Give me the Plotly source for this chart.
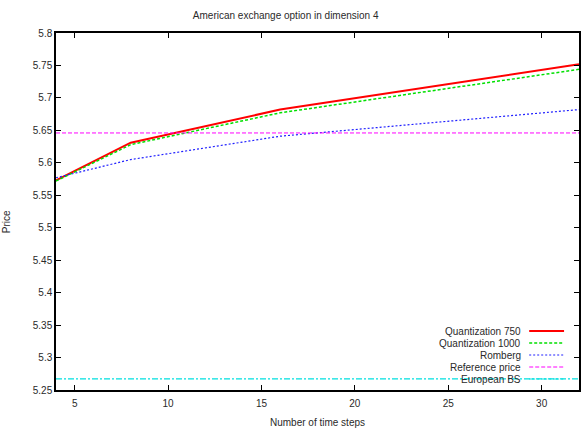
import plotly.graph_objects as go

# ---- data ----
steps = [4, 8, 16, 32]
quant750 = [5.573, 5.631, 5.682, 5.752]
quant1000 = [5.572, 5.628, 5.677, 5.744]
romberg = [5.577, 5.605, 5.641, 5.682]
reference_price = 5.646
european_bs = 5.267
x_range = [4, 32]
y_range = [5.25, 5.8]
y_ticks = [5.25, 5.3, 5.35, 5.4, 5.45, 5.5, 5.55, 5.6, 5.65, 5.7, 5.75, 5.8]
x_ticks = [5, 10, 15, 20, 25, 30]
legend_names = ["Quantization 750", "Quantization 1000", "Romberg", "Reference price", "European BS"]

FONT = "Liberation Sans, Arial, Helvetica, sans-serif"
TXT = "#2a2a2a"

series = [
    (steps, quant750, "#ff0000", "solid", 2.0),
    (steps, quant1000, "#00e000", "3px,2px", 1.5),
    (steps, romberg, "#2020ff", "2px,2px", 1.2),
    (x_range, [reference_price] * 2, "#ff00ff", "4px,2px", 1.0),
    (x_range, [european_bs] * 2, "#00e0e0", "6px,2px,2px,2px", 1.2),
]

fig = go.Figure()
for (xs, ys, col, dash, w), name in zip(series, legend_names):
    fig.add_trace(go.Scatter(x=xs, y=ys, mode="lines", name=name,
                             line=dict(color=col, dash=dash, width=w),
                             showlegend=False))

# manual gnuplot-style legend (text right, sample on right)
L, R, T, B = 56, 2, 33, 48
W, H = 583 - L - R, 438 - T - B
def px(xp):
    return (xp - L) / W
def py(yp):
    return 1 - (yp - T) / H

rows_y = [331, 343, 355, 367, 379]
for (xs, ys, col, dash, w), name, yy in zip(series, legend_names, rows_y):
    fig.add_annotation(xref="paper", yref="paper", x=px(525), y=py(yy),
                       text=name, showarrow=False, xanchor="right", yanchor="middle",
                       font=dict(family=FONT, size=10, color=TXT))
    fig.add_shape(type="line", xref="paper", yref="paper",
                  x0=px(531), x1=px(566), y0=py(yy), y1=py(yy),
                  line=dict(color=col, dash=dash, width=w))

# y-axis title at the far left edge
fig.add_annotation(xref="paper", yref="paper", x=px(6), y=py(222),
                   text="Price", textangle=-90, showarrow=False,
                   xanchor="center", yanchor="middle",
                   font=dict(family=FONT, size=10, color=TXT))

axis_common = dict(showline=True, linecolor="black", linewidth=1.5, mirror="ticks",
                   ticks="inside", ticklen=5, tickwidth=1, tickcolor="black",
                   showgrid=False, zeroline=False,
                   tickfont=dict(family=FONT, size=10, color=TXT))

fig.update_layout(
    width=583, height=438,
    margin=dict(l=L, r=R, t=T, b=B),
    paper_bgcolor="white", plot_bgcolor="white",
    title=dict(text="American exchange option in dimension 4",
               x=0.49, xref="container", xanchor="center",
               y=1 - 15 / 438, yref="container", yanchor="middle",
               font=dict(family=FONT, size=10, color=TXT)),
    xaxis=dict(range=x_range, tickvals=x_ticks, ticktext=[str(v) for v in x_ticks],
               title=dict(text="Number of time steps", standoff=11,
                          font=dict(family=FONT, size=10, color=TXT)),
               ticklabelstandoff=3,
               **axis_common),
    yaxis=dict(range=y_range, tickvals=y_ticks, ticktext=[f"{v:g}" for v in y_ticks],
               **axis_common),
    showlegend=False,
)

fig.write_html("out.html")
